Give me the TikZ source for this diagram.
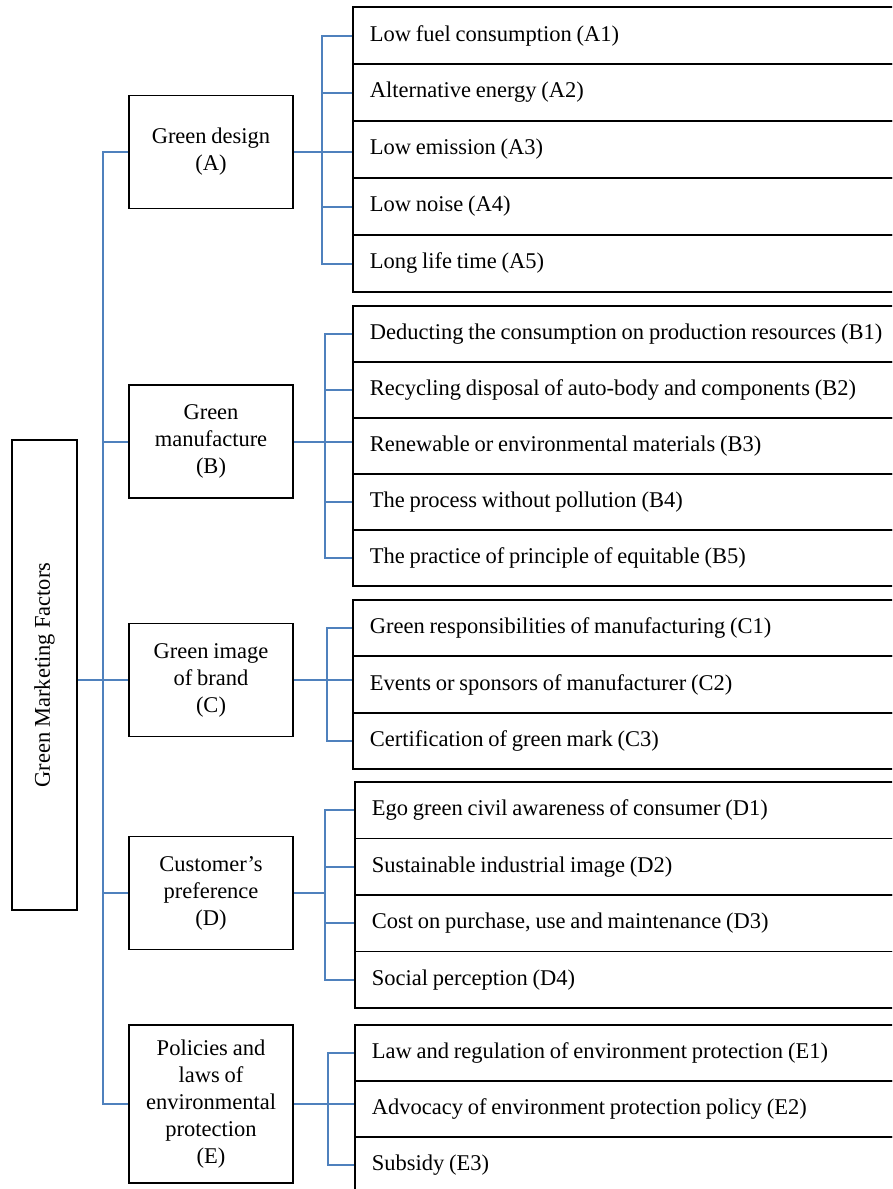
\documentclass[tikz,border=0pt]{standalone}
\usepackage{fontspec}
\usepackage{graphicx}
\setmainfont[WordSpace=0.85]{Liberation Serif}
\newcommand{\itemfont}{\fontsize{22.5}{27}\selectfont}
\newcommand{\catfont}{\fontsize{22.5}{27}\selectfont}

\begin{document}
\begin{tikzpicture}[x=1pt,y=-1pt,
  box/.style={draw=black,line width=1.8pt,inner sep=0pt},
  catbox/.style={box,minimum width=164pt,minimum height=113pt,align=center,font=\catfont},
  itembox/.style={box,anchor=west,minimum height=#1,text width=600pt,inner xsep=17pt,align=flush left,font=\itemfont},
  itembox/.default=57pt,
  link/.style={draw=\linkclr,line width=2pt}]
\definecolor{linkblue}{RGB}{79,129,189}
\newcommand{\linkclr}{linkblue}
\clip (0,0) rectangle (892,1189);
\fill[white] (0,0) rectangle (892,1189);
% root
\node[box,minimum width=65pt,minimum height=470pt,font=\catfont] (root) at (44.5,675) {\rotatebox{90}{Green Marketing Factors}};
% categories
\node[catbox] (catA) at (211,152) {Green design\\(A)};
\node[catbox] (catB) at (211,441.5) {Green\\manufacture\\(B)};
\node[catbox] (catC) at (211,680) {Green image\\of brand\\(C)};
\node[catbox] (catD) at (211,893) {Customer's\\preference\\(D)};
\node[catbox,minimum height=158pt] (catE) at (211,1104) {Policies and\\laws of\\environmental\\protection\\(E)};
% items A
\node[itembox] (subA1) at (352,35.5) {Low fuel consumption (A1)};
\node[itembox] (subA2) at (352,92.5) {Alternative energy (A2)};
\node[itembox] (subA3) at (352,149.5) {Low emission (A3)};
\node[itembox] (subA4) at (352,206.5) {Low noise (A4)};
\node[itembox] (subA5) at (352,263.5) {Long life time (A5)};
% items B
\node[itembox=56pt] (subB1) at (352,334) {Deducting the consumption on production resources (B1)};
\node[itembox=56pt] (subB2) at (352,390) {Recycling disposal of auto-body and components (B2)};
\node[itembox=56pt] (subB3) at (352,446) {Renewable or environmental materials (B3)};
\node[itembox=56pt] (subB4) at (352,502) {The process without pollution (B4)};
\node[itembox=56pt] (subB5) at (352,558) {The practice of principle of equitable (B5)};
% items C
\node[itembox=56.3pt] (subC1) at (352,628.2) {Green responsibilities of manufacturing (C1)};
\node[itembox=56.3pt] (subC2) at (352,684.5) {Events or sponsors of manufacturer (C2)};
\node[itembox=56.3pt] (subC3) at (352,740.8) {Certification of green mark (C3)};
% items D
\node[itembox=56.5pt] (subD1) at (354,810.2) {Ego green civil awareness of consumer (D1)};
\node[itembox=56.5pt] (subD2) at (354,866.7) {Sustainable industrial image (D2)};
\node[itembox=56.5pt] (subD3) at (354,923.2) {Cost on purchase, use and maintenance (D3)};
\node[itembox=56.5pt] (subD4) at (354,979.7) {Social perception (D4)};
% items E
\node[itembox=56pt] (subE1) at (354,1053) {Law and regulation of environment protection (E1)};
\node[itembox=56pt] (subE2) at (354,1109) {Advocacy of environment protection policy (E2)};
\node[itembox=56pt] (subE3) at (354,1165) {Subsidy (E3)};
% spine
\draw[link] (catA.west) -- ++(-25,0) |- (catE.west);
\draw[link] (catB.west) -- ++(-25,0) (catD.west) -- ++(-25,0);
\draw[link] (root.east |- catC.west) -- (catC.west);
% brackets
\draw[link] (subA1.west) -- ++(-30,0) |- (subA5.west);
\draw[link] (subA2.west) -- ++(-30,0) (subA4.west) -- ++(-30,0);
\draw[link] (catA.east) -- (catA.east -| subA3.west);
\draw[link] (subB1.west) -- ++(-27,0) |- (subB5.west);
\draw[link] (subB2.west) -- ++(-27,0) (subB4.west) -- ++(-27,0);
\draw[link] (catB.east) -- (catB.east -| subB3.west);
\draw[link] (subC1.west) -- ++(-25,0) |- (subC3.west);
\draw[link] (catC.east) -- (catC.east -| subC2.west);
\draw[link] (subD1.west) -- ++(-29,0) coordinate (dbar) |- (subD4.west);
\draw[link] (subD2.west) -- ++(-29,0) (subD3.west) -- ++(-29,0);
\draw[link] (catD.east) -- (catD.east -| dbar);
\draw[link] (subE1.west) -- ++(-26,0) |- (subE3.west);
\draw[link] (catE.east) -- (catE.east -| subE2.west);
\end{tikzpicture}
\end{document}
